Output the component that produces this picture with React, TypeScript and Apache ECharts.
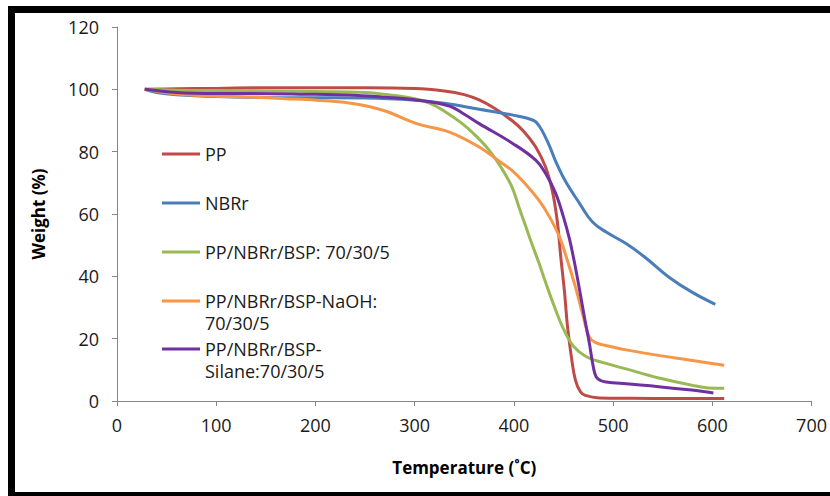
import React, { useEffect, useRef } from "react";
import * as echarts from "echarts";

const seriesNames = [
  "PP",
  "NBRr",
  "PP/NBRr/BSP: 70/30/5",
  "PP/NBRr/BSP-NaOH: 70/30/5",
  "PP/NBRr/BSP-Silane:70/30/5",
];
const legendLabels = [
  "PP",
  "NBRr",
  "PP/NBRr/BSP: 70/30/5",
  "PP/NBRr/BSP-NaOH:\n70/30/5",
  "PP/NBRr/BSP-\nSilane:70/30/5",
];
const colors = ["#BE4B48", "#4A7EBB", "#98B954", "#F79646", "#7030A0"];

const xTicks = [0, 100, 200, 300, 400, 500, 600, 700];
const yTicks = [0, 20, 40, 60, 80, 100, 120];

const ppData = [
  [28, 100], [60, 100.2], [100, 100.3], [150, 100.5], [200, 100.5], [250, 100.5],
  [300, 100.3], [330, 99.5], [350, 98.3], [365, 96.6], [380, 94], [398, 90],
  [410, 86.5], [422, 81.5], [432, 75], [439, 67], [444, 57], [447, 47],
  [451, 35], [454, 24], [458, 14], [462, 6.7], [467, 3], [472, 1.8],
  [486, 1], [520, 0.9], [560, 0.8], [612, 0.8],
];
const nbrData = [
  [28, 100], [40, 99], [60, 98.3], [100, 97.7], [150, 97.4], [200, 97.3],
  [250, 97.2], [300, 96.5], [330, 95.5], [365, 93.6], [398, 91.8], [420, 90],
  [426, 88], [432, 84.5], [437, 81], [442, 77], [452, 70.5], [466, 63.5],
  [479, 57.5], [493, 54.2], [513, 50.5], [533, 45.9], [556, 39.8], [579, 35],
  [603, 31],
];
const bspData = [
  [28, 100], [60, 99.7], [100, 99.6], [150, 99.5], [200, 99.3], [250, 99],
  [280, 98], [300, 97], [315, 95.6], [330, 93], [348, 89], [362, 85],
  [375, 80.5], [387, 75], [398, 68.7], [405, 62.3], [412, 56], [418, 50.5],
  [425, 44.5], [432, 38], [439, 31.8], [446, 26], [452, 21.8], [460, 17.6],
  [473, 14.2], [490, 12.3], [513, 10.3], [546, 7.4], [579, 5.1], [596, 4.2],
  [612, 4.1],
];
const naohData = [
  [28, 100], [60, 98.5], [100, 97.8], [134, 97.5], [170, 97], [201, 96.5],
  [234, 95.6], [268, 93.3], [302, 89], [335, 86.3], [365, 81.5], [385, 77],
  [398, 74], [412, 69.5], [425, 64.5], [436, 59], [446, 52.6], [454, 45],
  [462, 36.6], [470, 27], [476, 20.5], [482, 18.8], [490, 18], [513, 16.4],
  [563, 13.8], [612, 11.5],
];
const silaneData = [
  [28, 100], [60, 99], [100, 98.7], [134, 98.7], [200, 98.4], [234, 98.2],
  [268, 97.5], [302, 96.6], [335, 94.6], [350, 92], [365, 89], [398, 82.8],
  [422, 77.3], [432, 73], [442, 66.7], [450, 59], [456, 52], [461, 44.5],
  [466, 36], [471, 27], [476, 18.6], [480, 11], [483, 7.7], [488, 6.5],
  [493, 6.1], [513, 5.5], [546, 4.6], [579, 3.5], [601, 2.6],
];
const allData = [ppData, nbrData, bspData, naohData, silaneData];
const legendCenters = [152, 201, 250, 301, 349];

const FONT = "'Open Sans', 'DejaVu Sans', sans-serif";

export default function App() {
  const ref = useRef<HTMLDivElement>(null);
  useEffect(() => {
    if (!ref.current) return;
    const chart = echarts.init(ref.current, undefined, { renderer: "svg" });
    const legends = seriesNames.map((name, i) => {
      const twoLine = legendLabels[i].includes("\n");
      return {
        show: true,
        data: [name],
        left: 162,
        top: twoLine ? legendCenters[i] - 33 : legendCenters[i] - 9,
        orient: "vertical",
        padding: 0,
        icon: "rect",
        itemWidth: 38,
        itemHeight: 3,
        itemGap: 0,
        selectedMode: false,
        formatter: () => (twoLine ? " \n" + legendLabels[i] : legendLabels[i]),
        textStyle: {
          fontFamily: FONT,
          fontSize: 18,
          color: "#1a1a1a",
          lineHeight: 22,
        },
      };
    });
    chart.setOption({
      animation: false,
      backgroundColor: "#ffffff",
      grid: { left: 117, right: 18, top: 27, bottom: 95, containLabel: false },
      legend: legends,
      xAxis: {
        type: "value",
        min: 0,
        max: 700,
        interval: 100,
        name: "Temperature (˚C)",
        nameLocation: "middle",
        nameGap: 58,
        nameTextStyle: { fontFamily: FONT, fontSize: 17, fontWeight: "bold", color: "#000" },
        axisLine: { show: true, lineStyle: { color: "#868686", width: 1 } },
        axisTick: { show: true, length: 5, lineStyle: { color: "#868686" } },
        splitLine: { show: false },
        axisLabel: {
          fontFamily: FONT,
          fontSize: 18,
          color: "#1a1a1a",
          margin: 15,
          formatter: (v: number) => (xTicks.includes(v) ? String(v) : ""),
        },
      },
      yAxis: {
        type: "value",
        min: 0,
        max: 120,
        interval: 20,
        name: "Weight (%)",
        nameLocation: "middle",
        nameGap: 70,
        nameRotate: 90,
        nameTextStyle: { fontFamily: FONT, fontSize: 17, fontWeight: "bold", color: "#000" },
        axisLine: { show: true, lineStyle: { color: "#868686", width: 1 } },
        axisTick: { show: true, length: 5, lineStyle: { color: "#868686" } },
        splitLine: { show: false },
        axisLabel: {
          fontFamily: FONT,
          fontSize: 18,
          color: "#1a1a1a",
          margin: 18,
          formatter: (v: number) => (yTicks.includes(v) ? String(v) : ""),
        },
      },
      series: seriesNames.map((name, i) => ({
        name,
        type: "line",
        data: allData[i],
        smooth: 0.4,
        showSymbol: false,
        symbol: "none",
        color: colors[i],
        lineStyle: { color: colors[i], width: 3 },
        itemStyle: { color: colors[i] },
        z: 2 + i,
      })),
      graphic: [
        { type: "rect", shape: { x: 8, y: 6, width: 822, height: 7 }, style: { fill: "#000" }, z: 100 },
        { type: "rect", shape: { x: 8, y: 6, width: 7, height: 490 }, style: { fill: "#000" }, z: 100 },
        { type: "rect", shape: { x: 8, y: 492, width: 822, height: 4 }, style: { fill: "#000" }, z: 100 },
      ],
    });
    return () => chart.dispose();
  }, []);
  return (
    <div
      ref={ref}
      style={{ position: "fixed", left: 0, top: 0, width: 830, height: 496, background: "#fff" }}
    />
  );
}
